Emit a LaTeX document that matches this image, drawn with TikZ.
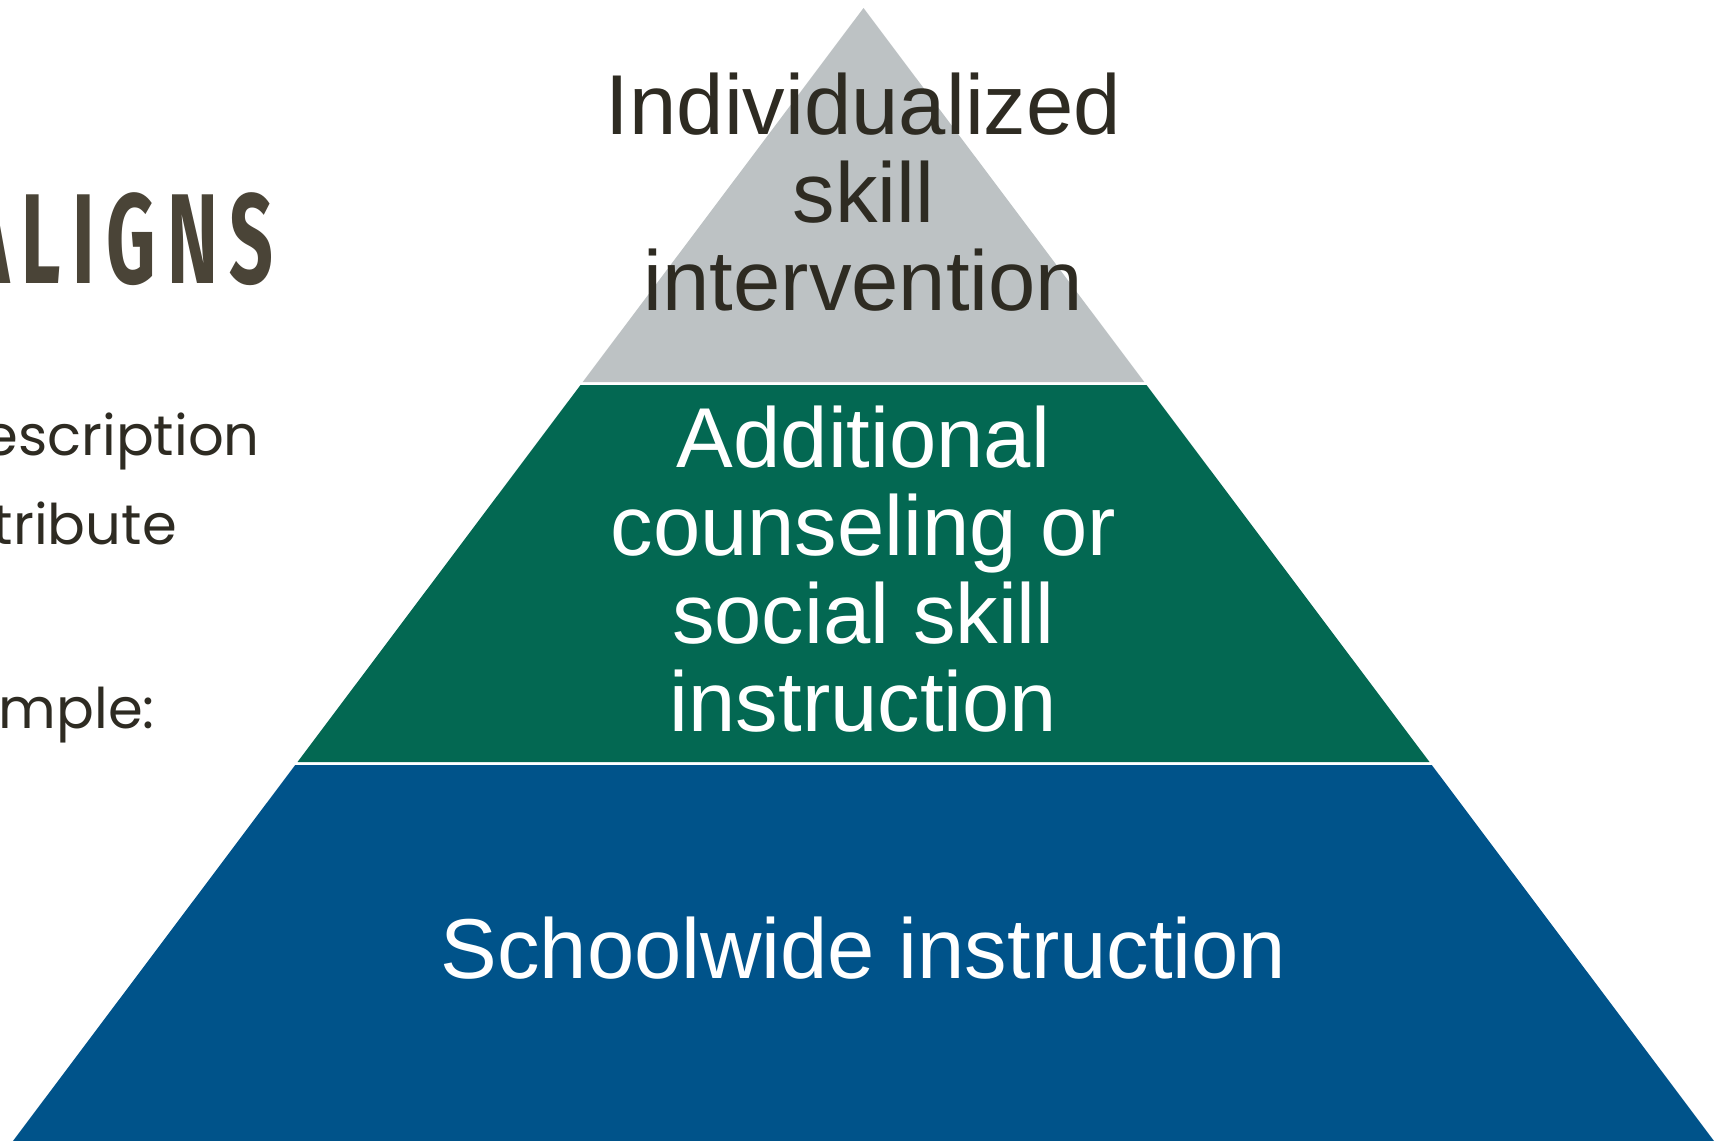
\documentclass[tikz,border=0pt]{standalone}
\usepackage{fontspec}
\usepackage{graphicx}
\setmainfont{Liberation Sans}
\newfontfamily\alignsfont[LetterSpace=15]{Fira Sans}
\newfontfamily\sidefont{Poppins}
\definecolor{tiergray}{RGB}{189,194,196}
\definecolor{tiergreen}{RGB}{3,104,82}
\definecolor{tierblue}{RGB}{0,83,138}
\definecolor{darktext}{RGB}{46,43,34}
\definecolor{titletext}{RGB}{74,68,55}
\tikzset{
  band/.style={draw=none},
  tiertext/.style={inner sep=0pt, align=center, font=\fontsize{85}{88}\selectfont},
  sidetext/.style={inner sep=0pt, text=darktext, font=\sidefont\fontsize{56}{60}\selectfont},
}
\begin{document}
\begin{tikzpicture}[x=1pt,y=-1pt]
\useasboundingbox (0,0) rectangle (1717,1141);
\clip (0,0) rectangle (1717,1141);
\fill[white] (0,0) rectangle (1717,1141);
% pyramid bands
\fill[band, tiergray] (863.5,8) -- (1144.3,382) -- (582.7,382) -- cycle;
\fill[band, tiergreen] (580.5,385) -- (1146.5,385) -- (1429.5,762) -- (297.5,762) -- cycle;
\fill[band, tierblue] (295.2,765) -- (1431.8,765) -- (1728.3,1160) -- (-1.3,1160) -- cycle;
% tier labels (base anchor = baseline of the last line)
\node[tiertext, text=darktext, anchor=base] (toplabel) at (863.5,310) {Individualized\\skill\\intervention};
\node[tiertext, text=white, anchor=base] (midlabel) at (863.5,731) {Additional\\counseling or\\social skill\\instruction};
\node[tiertext, text=white, anchor=base] (baselabel) at (863.5,978) {Schoolwide instruction};
% left side text (cut off by the frame)
\node[inner sep=0pt, anchor=base east, text=titletext] (aligns) at (274,283) {\scalebox{0.6}[1]{\alignsfont\fontseries{sb}\selectfont\fontsize{128}{130}\selectfont ALIGNS}};
\node[sidetext, anchor=base east] (desc) at (260,455) {escription};
\node[sidetext, anchor=base east] (attr) at (177,544) {tribute};
\node[sidetext, anchor=base east] (exam) at (155,728) {mple:};
\end{tikzpicture}
\end{document}
